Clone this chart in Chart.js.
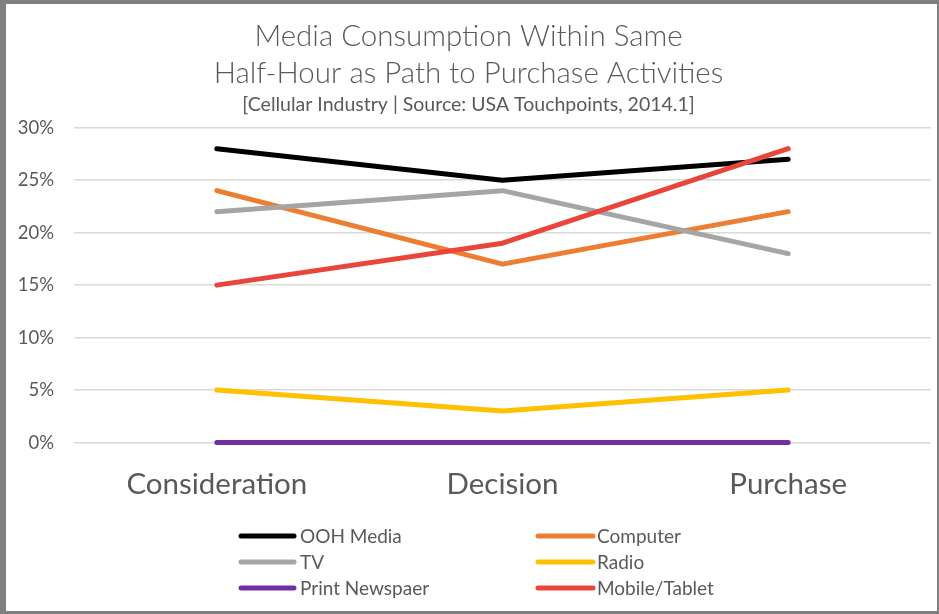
<!DOCTYPE html>
<html>
<head>
<meta charset="utf-8">
<script src="https://cdn.jsdelivr.net/npm/chart.js@4"></script>
<style>
  html, body { margin: 0; padding: 0; }
  body { width: 939px; height: 614px; background: #7f7f7f; position: relative; overflow: hidden; }
  #frame { position: absolute; left: 6px; top: 4px; width: 931px; height: 607px; background: #ffffff; }
  #frame canvas { display: block; }
</style>
</head>
<body>
<div id="frame"><canvas id="c" width="931" height="607"></canvas></div>
<script>
const categories = ["Consideration", "Decision", "Purchase"];
const seriesNames = ["OOH Media", "Computer", "TV", "Radio", "Print Newspaer", "Mobile/Tablet"];
const oohMedia = [0.28, 0.25, 0.27];
const computer = [0.24, 0.17, 0.22];
const tv = [0.22, 0.24, 0.18];
const radio = [0.05, 0.03, 0.05];
const printNewspaper = [0.00, 0.00, 0.00];
const mobileTablet = [0.15, 0.19, 0.28];
const seriesColors = ["#000000", "#ED7D31", "#A5A5A5", "#FFC000", "#7030A0", "#E8463A"];
const titleLines = ["Media Consumption Within Same", "Half-Hour as Path to Purchase Activities"];
const subtitleText = "[Cellular Industry | Source: USA Touchpoints, 2014.1]";

const seriesValues = [oohMedia, computer, tv, radio, printNewspaper, mobileTablet];
const FONT = "Lato";
const TEXT = "#595959";

const datasets = seriesNames.map((name, i) => ({
  label: name,
  data: seriesValues[i],
  borderColor: seriesColors[i],
  backgroundColor: seriesColors[i],
  borderWidth: 5,
  borderCapStyle: "round",
  borderJoinStyle: "round",
  pointRadius: 0,
  pointHoverRadius: 0,
  tension: 0,
  fill: false,
  clip: 8,
  order: seriesNames.length - i
}));

const legendPlugin = {
  id: "twoColLegend",
  afterDraw(chart) {
    const ctx = chart.ctx;
    const colLine = [[235, 288], [532, 587]];
    const colText = [294, 591];
    const rows = [532, 558, 584];
    ctx.save();
    ctx.font = "19px " + FONT;
    ctx.fillStyle = TEXT;
    ctx.textBaseline = "middle";
    ctx.textAlign = "left";
    chart.data.datasets.forEach((ds, i) => {
      const col = i % 2, row = Math.floor(i / 2);
      const y = rows[row];
      ctx.strokeStyle = ds.borderColor;
      ctx.lineWidth = 5;
      ctx.lineCap = "round";
      ctx.beginPath();
      ctx.moveTo(colLine[col][0], y);
      ctx.lineTo(colLine[col][1], y);
      ctx.stroke();
      ctx.fillText(ds.label, colText[col], y + 1);
    });
    ctx.restore();
  }
};

new Chart(document.getElementById("c"), {
  type: "line",
  data: { labels: categories, datasets },
  options: {
    responsive: false,
    animation: false,
    layout: { padding: { left: 0, right: 6, top: 0, bottom: 85 } },
    plugins: {
      legend: { display: false },
      tooltip: { enabled: false },
      title: {
        display: true,
        text: titleLines,
        color: TEXT,
        font: { family: FONT, size: 29.5, weight: "300", lineHeight: 1.254 },
        padding: { top: 14, bottom: 1.75 }
      },
      subtitle: {
        display: true,
        text: subtitleText,
        color: TEXT,
        font: { family: FONT, size: 19.5, lineHeight: 1.1 },
        padding: { top: 0, bottom: 12.5 }
      }
    },
    scales: {
      x: {
        offset: true,
        grid: { display: false, drawTicks: false },
        border: { display: false },
        ticks: { color: TEXT, font: { family: FONT, size: 29.5 }, padding: 24 }
      },
      y: {
        min: 0,
        max: 0.30,
        ticks: {
          stepSize: 0.05,
          color: TEXT,
          font: { family: FONT, size: 18.5 },
          padding: 20,
          callback: v => Math.round(v * 100) + "%"
        },
        grid: { color: "#D9D9D9", lineWidth: 1.5, drawTicks: false },
        border: { display: false },
        afterFit(scale) { scale.width = 68; }
      }
    }
  },
  plugins: [legendPlugin]
});
</script>
</body>
</html>
